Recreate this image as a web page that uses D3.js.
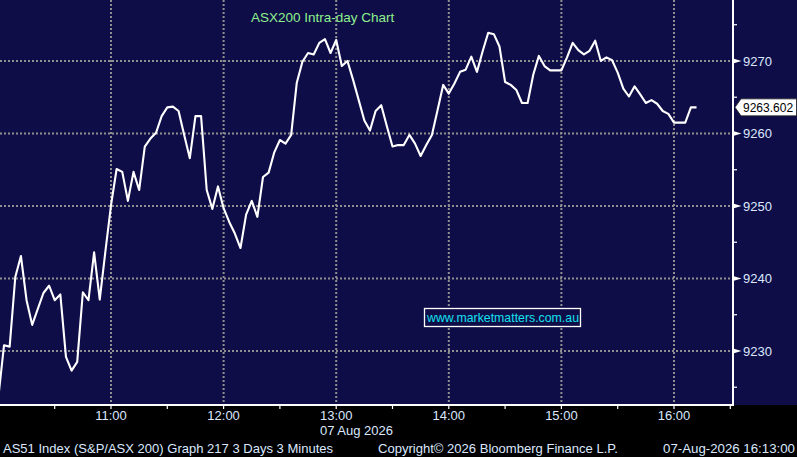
<!DOCTYPE html>
<meta charset="utf-8">
<script src="https://d3js.org/d3.v7.min.js"></script>
<style>
body { margin: 0; background: #000; }
text { font-family: "Liberation Sans", Arial, sans-serif; }
.grid line { stroke: #8f8f8f; stroke-width: 2; stroke-dasharray: 2,2; }
.lbl { fill: #dce8ff; font-size: 13px; }
</style>
<body>
<script>
var width = 797,
    height = 457,
    plotW = 733,
    plotH = 405;

// 3-minute bars, 07 Aug 2026
var times = ["10:00","10:03","10:06","10:09","10:12","10:15","10:18","10:21","10:24","10:27",
  "10:30","10:33","10:36","10:39","10:42","10:45","10:48","10:51","10:54","10:57",
  "11:00","11:03","11:06","11:09","11:12","11:15","11:18","11:21","11:24","11:27",
  "11:30","11:33","11:36","11:39","11:42","11:45","11:48","11:51","11:54","11:57",
  "12:00","12:03","12:06","12:09","12:12","12:15","12:18","12:21","12:24","12:27",
  "12:30","12:33","12:36","12:39","12:42","12:45","12:48","12:51","12:54","12:57",
  "13:00","13:03","13:06","13:09","13:12","13:15","13:18","13:21","13:24","13:27",
  "13:30","13:33","13:36","13:39","13:42","13:45","13:48","13:51","13:54","13:57",
  "14:00","14:03","14:06","14:09","14:12","14:15","14:18","14:21","14:24","14:27",
  "14:30","14:33","14:36","14:39","14:42","14:45","14:48","14:51","14:54","14:57",
  "15:00","15:03","15:06","15:09","15:12","15:15","15:18","15:21","15:24","15:27",
  "15:30","15:33","15:36","15:39","15:42","15:45","15:48","15:51","15:54","15:57",
  "16:00","16:03","16:06","16:09","16:12"];
var values = [9223.7,9230.8,9230.6,9240.2,9243.1,9237.0,9233.6,9235.8,9238.0,9239.0,
  9237.0,9237.8,9229.2,9227.3,9228.5,9238.1,9237.0,9243.6,9237.1,9243.7,
  9250.1,9255.1,9254.7,9250.7,9254.7,9252.2,9258.2,9259.3,9260.1,9262.4,
  9263.6,9263.7,9263.1,9259.8,9256.6,9262.4,9262.4,9252.2,9249.6,9252.7,
  9249.7,9247.8,9246.2,9244.2,9248.8,9250.7,9248.5,9254.0,9254.6,9257.4,
  9259.1,9258.6,9259.8,9267.0,9269.9,9271.1,9270.9,9272.5,9273.0,9271.1,
  9272.9,9269.3,9270.0,9267.4,9264.6,9261.8,9260.4,9263.1,9263.9,9261.0,
  9258.2,9258.4,9258.4,9259.8,9258.6,9256.9,9258.4,9259.8,9263.2,9266.7,
  9265.5,9266.9,9268.5,9268.8,9270.6,9268.5,9271.3,9273.9,9273.7,9272.0,
  9267.1,9266.7,9266.0,9264.2,9264.2,9268.1,9270.7,9269.3,9268.7,9268.7,
  9268.7,9270.5,9272.5,9271.5,9270.9,9271.4,9272.8,9270.0,9270.5,9270.1,
  9268.4,9266.2,9265.1,9266.5,9265.4,9264.2,9264.6,9264.1,9263.1,9262.7,
  9261.5,9261.5,9261.5,9263.6,9263.6];
var yTicks = [9230, 9240, 9250, 9260, 9270];
var yMinor = [9225, 9235, 9245, 9255, 9265, 9275];
var xTicks = ["11:00","12:00","13:00","14:00","15:00","16:00"];
var xMinor = ["10:30","11:30","12:30","13:30","14:30","15:30","16:30"];
var lastValue = 9263.602;
var title = "ASX200 Intra-day Chart";
var dateLabel = "07 Aug 2026";
var footer = ["AS51 Index (S&P/ASX 200) Graph 217 3 Days 3 Minutes",
  "Copyright\u00a9 2026 Bloomberg Finance L.P.", "07-Aug-2026 16:13:00"];
var watermark = "www.marketmatters.com.au";

var parseT = function(s) {
  var p = s.split(":");
  return new Date(2026, 7, 7, +p[0], +p[1]);
};

var x = d3.scaleTime()
    .domain([parseT("10:00"), parseT("16:30")])
    .range([-1.6, 730.3]);
var y = d3.scaleLinear()
    .domain([9222.55, 9278.41])
    .range([plotH, 0]);

var svg = d3.select("body").append("svg")
    .attr("width", width)
    .attr("height", height);

svg.append("rect").attr("width", width).attr("height", height).attr("fill", "#000");
svg.append("rect").attr("width", width).attr("height", plotH).attr("fill", "#0f0d47");

// grid
var grid = svg.append("g").attr("class", "grid");
grid.selectAll("line.h").data(yTicks).enter().append("line")
    .attr("x1", 0).attr("x2", plotW)
    .attr("y1", function(d) { return y(d); })
    .attr("y2", function(d) { return y(d); });
grid.selectAll("line.v").data(xTicks).enter().append("line")
    .attr("x1", function(d) { return x(parseT(d)); })
    .attr("x2", function(d) { return x(parseT(d)); })
    .attr("y1", 0).attr("y2", plotH);

// title + watermark
svg.append("text").attr("x", 251).attr("y", 22)
    .attr("fill", "#8df08d").style("font-size", "13.5px").text(title);

svg.append("rect").attr("x", 424.5).attr("y", 308.5).attr("width", 156).attr("height", 18)
    .attr("fill", "#0f0d47").attr("stroke", "#fff").attr("stroke-width", 1.3);
svg.append("text").attr("x", 427).attr("y", 322)
    .attr("fill", "#14e0f0").style("font-size", "13.5px")
    .attr("textLength", 152).attr("lengthAdjust", "spacingAndGlyphs")
    .text(watermark);

// price line
var data = times.map(function(t, i) { return {t: parseT(t), v: values[i]}; });
var line = d3.line()
    .x(function(d) { return x(d.t); })
    .y(function(d) { return y(d.v); });

svg.append("clipPath").attr("id", "clip")
  .append("rect").attr("width", plotW).attr("height", plotH);
svg.append("path")
    .datum(data)
    .attr("clip-path", "url(#clip)")
    .attr("fill", "none")
    .attr("stroke", "#fff")
    .attr("stroke-width", 2.1)
    .attr("stroke-linejoin", "round")
    .attr("d", line);

// axes frame
svg.append("line").attr("x1", 0).attr("x2", plotW + 1).attr("y1", plotH).attr("y2", plotH)
    .attr("stroke", "#fff").attr("stroke-width", 2);
svg.append("line").attr("x1", plotW).attr("x2", plotW).attr("y1", 0).attr("y2", plotH)
    .attr("stroke", "#fff").attr("stroke-width", 2);

// x ticks
svg.selectAll("line.xt").data(xTicks.concat(xMinor)).enter().append("line")
    .attr("x1", function(d) { return x(parseT(d)); })
    .attr("x2", function(d) { return x(parseT(d)); })
    .attr("y1", plotH).attr("y2", plotH + 4)
    .attr("stroke", "#fff").attr("stroke-width", 1.2);
svg.selectAll("text.xl").data(xTicks).enter().append("text")
    .attr("class", "lbl")
    .attr("x", function(d) { return x(parseT(d)); })
    .attr("y", 420)
    .attr("text-anchor", "middle")
    .text(function(d) { return d; });
svg.append("text").attr("class", "lbl").attr("x", 320).attr("y", 435)
    .text(dateLabel);

// y ticks
svg.selectAll("line.ym").data(yMinor).enter().append("line")
    .attr("x1", plotW).attr("x2", plotW + 4)
    .attr("y1", function(d) { return y(d); })
    .attr("y2", function(d) { return y(d); })
    .attr("stroke", "#fff").attr("stroke-width", 1.2);
svg.selectAll("path.yt").data(yTicks).enter().append("path")
    .attr("d", function(d) {
      var yy = y(d);
      return "M" + plotW + "," + (yy - 2.5) + "L" + (plotW + 8.5) + "," + yy + "L" + plotW + "," + (yy + 2.5) + "Z";
    })
    .attr("fill", "#fff");
svg.selectAll("text.yl").data(yTicks).enter().append("text")
    .attr("class", "lbl")
    .attr("x", 743)
    .attr("y", function(d) { return y(d); })
    .attr("dy", "0.36em")
    .text(function(d) { return d; });

// last value tag
var ly = y(lastValue);
svg.append("path")
    .attr("d", "M735," + ly + "L741," + (ly - 8.5) + "L796.5," + (ly - 8.5) + "L796.5," + (ly + 8.5) + "L741," + (ly + 8.5) + "Z")
    .attr("fill", "#fff").attr("stroke", "#222").attr("stroke-width", 0.8);
svg.append("text").attr("x", 743).attr("y", ly).attr("dy", "0.36em")
    .attr("fill", "#000").style("font-size", "12px")
    .text(d3.format(".3f")(lastValue));

// footer
var fx = [3, 378, 663], fl = [330, 240, 132];
svg.selectAll("text.ft").data(footer).enter().append("text")
    .attr("class", "lbl")
    .attr("x", function(d, i) { return fx[i]; })
    .attr("y", 453)
    .style("font-size", "13.5px")
    .attr("textLength", function(d, i) { return fl[i]; })
    .attr("lengthAdjust", "spacingAndGlyphs")
    .text(function(d) { return d; });
</script>
</body>
